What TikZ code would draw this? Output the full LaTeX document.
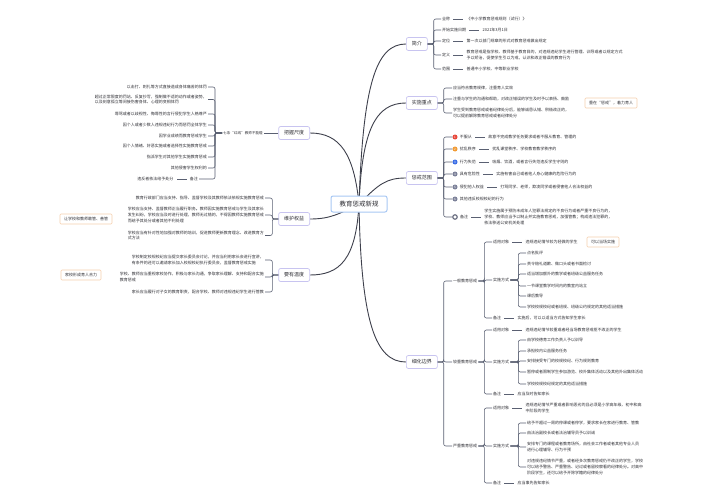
\documentclass[tikz,border=0pt]{standalone}
\usepackage{fontspec}
\setmainfont{Noto Sans CJK SC}
\usetikzlibrary{positioning,backgrounds}

\definecolor{rootblue}{HTML}{A8C8F4}
\definecolor{topicline}{HTML}{C8C4F0}
\definecolor{trunkgray}{HTML}{3E404C}
\definecolor{branchgray}{HTML}{5A6072}
\definecolor{noteorange}{HTML}{F6CFAE}
\definecolor{txt}{HTML}{2F2F35}
\definecolor{markred}{HTML}{E8483B}
\definecolor{markorange}{HTML}{F29B34}
\definecolor{markblue}{HTML}{3B6EE6}
\definecolor{markgray}{HTML}{7C8199}

\begin{document}
\begin{tikzpicture}[
    x=1pt, y=-1pt,
    root/.style={draw=rootblue, line width=1pt, rounded corners=2pt, fill=white, text=txt, font=\fontsize{6.5}{8}\selectfont, minimum width=56pt, minimum height=16pt},
    topic/.style={draw=topicline, line width=0.7pt, rounded corners=2pt, fill=white, text=txt, font=\fontsize{5}{6}\selectfont, minimum height=13pt, inner xsep=5.5pt},
    leaf/.style={font=\fontsize{4}{5.6}\selectfont, inner sep=1pt, align=left, text=txt},
    note/.style={leaf, draw=noteorange, line width=0.6pt, rounded corners=1pt, fill=white, minimum height=10pt, inner xsep=4pt},
    badge/.style={circle, fill=#1, text=white, inner sep=0pt, minimum size=5pt, font=\fontsize{3}{3}\selectfont},
    trunk/.style={draw=trunkgray, line width=0.9pt},
    fork/.style={draw=branchgray, line width=0.6pt, rounded corners=2pt},
    tie/.style={draw=branchgray, line width=0.6pt, shorten <=2pt, shorten >=2pt},
  ]
  \useasboundingbox (0,0) rectangle (704,503);

  % root and main topics
  \node[root] (core) at (359,204) {教育惩戒新规};

  \node[topic, anchor=west] (intro) at (406,44) {简介};
  \node[topic, anchor=west] (focus) at (406,103) {实施重点};
  \node[topic, anchor=west] (range) at (406,178) {惩戒范围};
  \node[topic, anchor=west] (bound) at (406,362) {细化边界};
  \node[topic, anchor=east] (measure) at (310,133) {把握尺度};
  \node[topic, anchor=east] (rights) at (310,219) {维护权益};
  \node[topic, anchor=east] (warmth) at (310,275) {要有温度};

  \begin{scope}[on background layer]
    \fill[white] (0,0) rectangle (704,503);
    \draw[trunk] (core.center) .. controls +(4,-120) and +(-30,0) .. (intro.west);
    \draw[trunk] (core.center) .. controls +(3,-75) and +(-30,0) .. (focus.west);
    \draw[trunk] (core.center) .. controls +(20,-20) and +(-20,0) .. (range.west);
    \draw[trunk] (core.center) .. controls +(2,120) and +(-30,0) .. (bound.west);
    \draw[trunk] (core.center) .. controls +(-5,-50) and +(30,0) .. (measure.east);
    \draw[trunk] (core.center) .. controls +(-20,10) and +(20,0) .. (rights.east);
    \draw[trunk] (core.center) .. controls +(-3,55) and +(30,0) .. (warmth.east);
  \end{scope}

  % 简介
  \node[leaf, anchor=west] (intro-name) at (441,19) {全称};
  \node[leaf, right=14pt of intro-name] (intro-name-t) {《中小学教育惩戒规则（试行）》};
  \node[leaf, anchor=west] (intro-date) at (441,30) {开始实施日期};
  \node[leaf, right=14pt of intro-date] (intro-date-t) {2021年3月1日};
  \node[leaf, anchor=west] (intro-pos) at (441,41) {定位};
  \node[leaf, right=14pt of intro-pos] (intro-pos-t) {第一次以部门规章的形式对教育惩戒做出规定};
  \node[leaf, anchor=west] (intro-def) at (441,55) {定义};
  \node[leaf, right=14pt of intro-def] (intro-def-t) {教育惩戒是指学校、教师基于教育目的，对违规违纪学生进行管理、训导或者以规定方式\\予以矫治，促使学生引以为戒，认识和改正错误的教育行为};
  \node[leaf, anchor=west] (intro-area) at (441,69) {范围};
  \node[leaf, right=14pt of intro-area] (intro-area-t) {普通中小学校、中等职业学校};

  \draw[fork] (intro.east) -- ++(6,0) |- (intro-name.west);
  \draw[fork] (intro.east) -- ++(6,0) |- (intro-date.west);
  \draw[fork] (intro.east) -- ++(6,0) |- (intro-pos.west);
  \draw[fork] (intro.east) -- ++(6,0) |- (intro-def.west);
  \draw[fork] (intro.east) -- ++(6,0) |- (intro-area.west);
  \draw[tie] (intro-name) -- (intro-name-t);
  \draw[tie] (intro-date) -- (intro-date-t);
  \draw[tie] (intro-pos) -- (intro-pos-t);
  \draw[tie] (intro-def) -- (intro-def-t);
  \draw[tie] (intro-area) -- (intro-area-t);

  % 实施重点
  \node[leaf, anchor=west] (focus-1) at (452,88) {应当符合教育规律，注重育人实效};
  \node[leaf, anchor=west] (focus-2) at (452,99) {注重与学生的沟通和帮助，对改正错误的学生及时予以表扬、鼓励};
  \node[leaf, anchor=west] (focus-3) at (452,113) {学生受到教育惩戒或者纪律处分后，能够诚恳认错、积极改正的，\\可以提前解除教育惩戒或者纪律处分};
  \node[note] (focus-note) at (611,103) {重在“惩戒”，着力育人};

  \draw[fork] (focus.east) -- ++(6,0) |- (focus-1.west);
  \draw[fork] (focus.east) -- ++(6,0) |- (focus-2.west);
  \draw[fork] (focus.east) -- ++(6,0) |- (focus-3.west);

  % 惩戒范围
  \node[badge=markred] (range-1) at (455,137) {1};
  \node[leaf, right=1pt of range-1] (range-1-l) {不服从};
  \node[leaf, right=14pt of range-1-l] (range-1-t) {故意不完成教学任务要求或者不服从教育、管理的};
  \node[badge=markorange] (range-2) at (455,149) {2};
  \node[leaf, right=1pt of range-2] (range-2-l) {扰乱秩序};
  \node[leaf, right=14pt of range-2-l] (range-2-t) {扰乱课堂秩序、学校教育教学秩序的};
  \node[badge=markblue] (range-3) at (455,162) {3};
  \node[leaf, right=1pt of range-3] (range-3-l) {行为失范};
  \node[leaf, right=14pt of range-3-l] (range-3-t) {吸烟、饮酒，或者言行失范违反学生守则的};
  \node[badge=markgray] (range-4) at (455,174) {4};
  \node[leaf, right=1pt of range-4] (range-4-l) {具有危险性};
  \node[leaf, right=14pt of range-4-l] (range-4-t) {实施有害自己或者他人身心健康的危险行为的};
  \node[badge=markgray] (range-5) at (455,187) {5};
  \node[leaf, right=1pt of range-5] (range-5-l) {侵犯他人权益};
  \node[leaf, right=14pt of range-5-l] (range-5-t) {打骂同学、老师，欺凌同学或者侵害他人合法权益的};
  \node[badge=markgray] (range-6) at (455,199) {6};
  \node[leaf, right=1pt of range-6] (range-6-l) {其他违反校规校纪的行为};
  \node[circle, draw=markgray!80!black, line width=1.1pt, fill=white, inner sep=0pt, minimum size=4.5pt] (range-7) at (455,217) {};
  \node[leaf, right=1pt of range-7] (range-7-l) {备注};
  \node[leaf, right=14pt of range-7-l] (range-7-t) {学生实施属于预防未成年人犯罪法规定的不良行为或者严重不良行为的，\\学校、教师应当予以制止并实施教育惩戒，加强管教；构成违法犯罪的，\\依法移送公安机关处理};

  \draw[fork] (range.east) -- ++(6,0) |- (range-1.west);
  \draw[fork] (range.east) -- ++(6,0) |- (range-2.west);
  \draw[fork] (range.east) -- ++(6,0) |- (range-3.west);
  \draw[fork] (range.east) -- ++(6,0) |- (range-4.west);
  \draw[fork] (range.east) -- ++(6,0) |- (range-5.west);
  \draw[fork] (range.east) -- ++(6,0) |- (range-6.west);
  \draw[fork] (range.east) -- ++(6,0) |- (range-7.west);
  \draw[tie] (range-1-l) -- (range-1-t);
  \draw[tie] (range-2-l) -- (range-2-t);
  \draw[tie] (range-3-l) -- (range-3-t);
  \draw[tie] (range-4-l) -- (range-4-t);
  \draw[tie] (range-5-l) -- (range-5-t);
  \draw[tie] (range-7-l) -- (range-7-t);

  % 细化边界 - 一般
  \node[leaf, anchor=west] (bound-a) at (452,281) {一般教育惩戒};
  \node[leaf, anchor=west] (bound-a-obj) at (492,242) {适用对象};
  \node[leaf, right=14pt of bound-a-obj] (bound-a-obj-t) {违规违纪情节较为轻微的学生};
  \node[note] (bound-a-note) at (603,242) {可以当场实施};
  \node[leaf, anchor=west] (bound-a-way) at (492,280) {实施方式};
  \node[leaf, anchor=west] (bound-a-w1) at (526,253) {点名批评};
  \node[leaf, anchor=west] (bound-a-w2) at (526,264) {责令赔礼道歉、做口头或者书面检讨};
  \node[leaf, anchor=west] (bound-a-w3) at (526,274) {适当增加额外的教学或者班级公益服务任务};
  \node[leaf, anchor=west] (bound-a-w4) at (526,286) {一节课堂教学时间内的教室内站立};
  \node[leaf, anchor=west] (bound-a-w5) at (526,296) {课后教导};
  \node[leaf, anchor=west] (bound-a-w6) at (526,307) {学校校规校纪或者班规、班级公约规定的其他适当措施};
  \node[leaf, anchor=west] (bound-a-memo) at (492,318) {备注};
  \node[leaf, right=14pt of bound-a-memo] (bound-a-memo-t) {实施后，可以以适当方式告知学生家长};

  \draw[fork] (bound-a.east) -- ++(6,0) |- (bound-a-obj.west);
  \draw[fork] (bound-a.east) -- ++(6,0) |- (bound-a-way.west);
  \draw[fork] (bound-a.east) -- ++(6,0) |- (bound-a-memo.west);
  \draw[fork] (bound-a-way.east) -- ++(8,0) |- (bound-a-w1.west);
  \draw[fork] (bound-a-way.east) -- ++(8,0) |- (bound-a-w2.west);
  \draw[fork] (bound-a-way.east) -- ++(8,0) |- (bound-a-w3.west);
  \draw[fork] (bound-a-way.east) -- ++(8,0) |- (bound-a-w4.west);
  \draw[fork] (bound-a-way.east) -- ++(8,0) |- (bound-a-w5.west);
  \draw[fork] (bound-a-way.east) -- ++(8,0) |- (bound-a-w6.west);
  \draw[tie] (bound-a-obj) -- (bound-a-obj-t);
  \draw[tie] (bound-a-memo) -- (bound-a-memo-t);

  % 细化边界 - 较重
  \node[leaf, anchor=west] (bound-b) at (452,362) {较重教育惩戒};
  \node[leaf, anchor=west] (bound-b-obj) at (492,330) {适用对象};
  \node[leaf, right=14pt of bound-b-obj] (bound-b-obj-t) {违规违纪情节较重或者经当场教育惩戒拒不改正的学生};
  \node[leaf, anchor=west] (bound-b-way) at (492,362) {实施方式};
  \node[leaf, anchor=west] (bound-b-w1) at (526,340) {由学校德育工作负责人予以训导};
  \node[leaf, anchor=west] (bound-b-w2) at (526,351) {承担校内公益服务任务};
  \node[leaf, anchor=west] (bound-b-w3) at (526,361) {安排接受专门的校规校纪、行为规则教育};
  \node[leaf, anchor=west] (bound-b-w4) at (526,372) {暂停或者限制学生参加游览、校外集体活动以及其他外出集体活动};
  \node[leaf, anchor=west] (bound-b-w5) at (526,384) {学校校规校纪规定的其他适当措施};
  \node[leaf, anchor=west] (bound-b-memo) at (492,394) {备注};
  \node[leaf, right=14pt of bound-b-memo] (bound-b-memo-t) {应当及时告知家长};

  \draw[fork] (bound-b.east) -- ++(6,0) |- (bound-b-obj.west);
  \draw[fork] (bound-b.east) -- ++(6,0) |- (bound-b-way.west);
  \draw[fork] (bound-b.east) -- ++(6,0) |- (bound-b-memo.west);
  \draw[fork] (bound-b-way.east) -- ++(8,0) |- (bound-b-w1.west);
  \draw[fork] (bound-b-way.east) -- ++(8,0) |- (bound-b-w2.west);
  \draw[fork] (bound-b-way.east) -- ++(8,0) |- (bound-b-w3.west);
  \draw[fork] (bound-b-way.east) -- ++(8,0) |- (bound-b-w4.west);
  \draw[fork] (bound-b-way.east) -- ++(8,0) |- (bound-b-w5.west);
  \draw[tie] (bound-b-obj) -- (bound-b-obj-t);
  \draw[tie] (bound-b-memo) -- (bound-b-memo-t);

  % 细化边界 - 严重
  \node[leaf, anchor=west] (bound-c) at (452,446) {严重教育惩戒};
  \node[leaf, anchor=west] (bound-c-obj) at (492,408) {适用对象};
  \node[leaf, right=14pt of bound-c-obj] (bound-c-obj-t) {违规违纪情节严重或者影响恶劣的且必须是小学高年级、初中和高\\中阶段的学生};
  \node[leaf, anchor=west] (bound-c-way) at (492,446) {实施方式};
  \node[leaf, anchor=west] (bound-c-w1) at (526,423) {给予不超过一周的停课或者停学，要求家长在家进行教育、管教};
  \node[leaf, anchor=west] (bound-c-w2) at (526,433) {由法治副校长或者法治辅导员予以训诫};
  \node[leaf, anchor=west] (bound-c-w3) at (526,447) {安排专门的课程或者教育场所，由社会工作者或者其他专业人员\\进行心理辅导、行为干预};
  \node[leaf, anchor=west] (bound-c-w4) at (526,467) {对违规违纪情节严重，或者经多次教育惩戒仍不改正的学生，学校\\可以给予警告、严重警告、记过或者留校察看的纪律处分。对高中\\阶段学生，还可以给予开除学籍的纪律处分};
  \node[leaf, anchor=west] (bound-c-memo) at (492,483) {备注};
  \node[leaf, right=14pt of bound-c-memo] (bound-c-memo-t) {应当事先告知家长};

  \draw[fork] (bound-c.east) -- ++(6,0) |- (bound-c-obj.west);
  \draw[fork] (bound-c.east) -- ++(6,0) |- (bound-c-way.west);
  \draw[fork] (bound-c.east) -- ++(6,0) |- (bound-c-memo.west);
  \draw[fork] (bound-c-way.east) -- ++(8,0) |- (bound-c-w1.west);
  \draw[fork] (bound-c-way.east) -- ++(8,0) |- (bound-c-w2.west);
  \draw[fork] (bound-c-way.east) -- ++(8,0) |- (bound-c-w3.west);
  \draw[fork] (bound-c-way.east) -- ++(8,0) |- (bound-c-w4.west);
  \draw[tie] (bound-c-obj) -- (bound-c-obj-t);
  \draw[tie] (bound-c-memo) -- (bound-c-memo-t);

  \draw[fork] (bound.east) -- ++(6,0) |- (bound-a.west);
  \draw[fork] (bound.east) -- ++(6,0) |- (bound-b.west);
  \draw[fork] (bound.east) -- ++(6,0) |- (bound-c.west);

  % 把握尺度
  \node[leaf, anchor=west, font=\fontsize{3.6}{5}\selectfont] (measure-red) at (222,133) {七条“红线”教师不能碰};
  \node[leaf, anchor=east] (measure-1) at (208,87) {以击打、刺扎等方式直接造成身体痛苦的体罚};
  \node[leaf, anchor=east] (measure-2) at (208,99.5) {超过正常限度的罚站、反复抄写，强制做不适的动作或者姿势，\\以及刻意孤立等间接伤害身体、心理的变相体罚};
  \node[leaf, anchor=east] (measure-3) at (208,114) {辱骂或者以歧视性、侮辱性的言行侵犯学生人格尊严};
  \node[leaf, anchor=east] (measure-4) at (208,125) {因个人或者少数人违规违纪行为而惩罚全体学生};
  \node[leaf, anchor=east] (measure-5) at (208,136) {因学业成绩而教育惩戒学生};
  \node[leaf, anchor=east] (measure-6) at (208,146) {因个人情绪、好恶实施或者选择性实施教育惩戒};
  \node[leaf, anchor=east] (measure-7) at (208,157) {指派学生对其他学生实施教育惩戒};
  \node[leaf, anchor=east] (measure-8) at (208,168) {其他侵害学生权利的};
  \node[leaf, anchor=east] (measure-memo) at (199,179) {备注};
  \node[leaf, left=14pt of measure-memo] (measure-memo-t) {违反者依法给予处分};

  \draw[fork] (measure.west) -- (measure-red.east);
  \draw[fork] (measure-red.west) -- ++(-7,0) |- (measure-1.east);
  \draw[fork] (measure-red.west) -- ++(-7,0) |- (measure-2.east);
  \draw[fork] (measure-red.west) -- ++(-7,0) |- (measure-3.east);
  \draw[fork] (measure-red.west) -- ++(-7,0) |- (measure-4.east);
  \draw[fork] (measure-red.west) -- ++(-7,0) |- (measure-5.east);
  \draw[fork] (measure-red.west) -- ++(-7,0) |- (measure-6.east);
  \draw[fork] (measure-red.west) -- ++(-7,0) |- (measure-7.east);
  \draw[fork] (measure-red.west) -- ++(-7,0) |- (measure-8.east);
  \draw[fork] (measure-red.west) -- ++(-7,0) |- (measure-memo.east);
  \draw[tie] (measure-memo) -- (measure-memo-t);

  % 维护权益
  \node[leaf, anchor=east] (rights-1) at (265,198) {教育行政部门应当支持、指导、监督学校及其教师依法依规实施教育惩戒};
  \node[leaf, anchor=east] (rights-2) at (265,215) {学校应当支持、监督教师正当履行职务。教师因实施教育惩戒与学生及其家长\\发生纠纷，学校应当及时进行处理，教师无过错的，不得因教师实施教育惩戒\\而给予其处分或者其他不利处理};
  \node[leaf, anchor=east] (rights-3) at (265,235.5) {学校应当有针对性地加强对教师的培训，促进教师更新教育理念、改进教育方\\式方法};
  \node[note] (rights-note) at (86,219) {让学校和教师敢管、善管};

  \draw[fork] (rights.west) -- ++(-6,0) |- (rights-1.east);
  \draw[fork] (rights.west) -- ++(-6,0) |- (rights-2.east);
  \draw[fork] (rights.west) -- ++(-6,0) |- (rights-3.east);

  % 要有温度
  \node[leaf, anchor=east] (warmth-1) at (265,260) {学校制定校规校纪应当提交家长委员会讨论，并应当利用家长会进行宣讲，\\有条件的还可以邀请家长加入校规校纪执行委员会，监督教育惩戒实施};
  \node[leaf, anchor=east] (warmth-2) at (265,277) {学校、教师应当重视家校协作，积极与家长沟通，争取家长理解、支持和配合实施\\教育惩戒};
  \node[leaf, anchor=east] (warmth-3) at (265,292) {家长应当履行对子女的教育职责，配合学校、教师对违规违纪学生进行管教};
  \node[note] (warmth-note) at (81,275) {家校形成育人合力};

  \draw[fork] (warmth.west) -- ++(-6,0) |- (warmth-1.east);
  \draw[fork] (warmth.west) -- ++(-6,0) |- (warmth-2.east);
  \draw[fork] (warmth.west) -- ++(-6,0) |- (warmth-3.east);
\end{tikzpicture}
\end{document}
